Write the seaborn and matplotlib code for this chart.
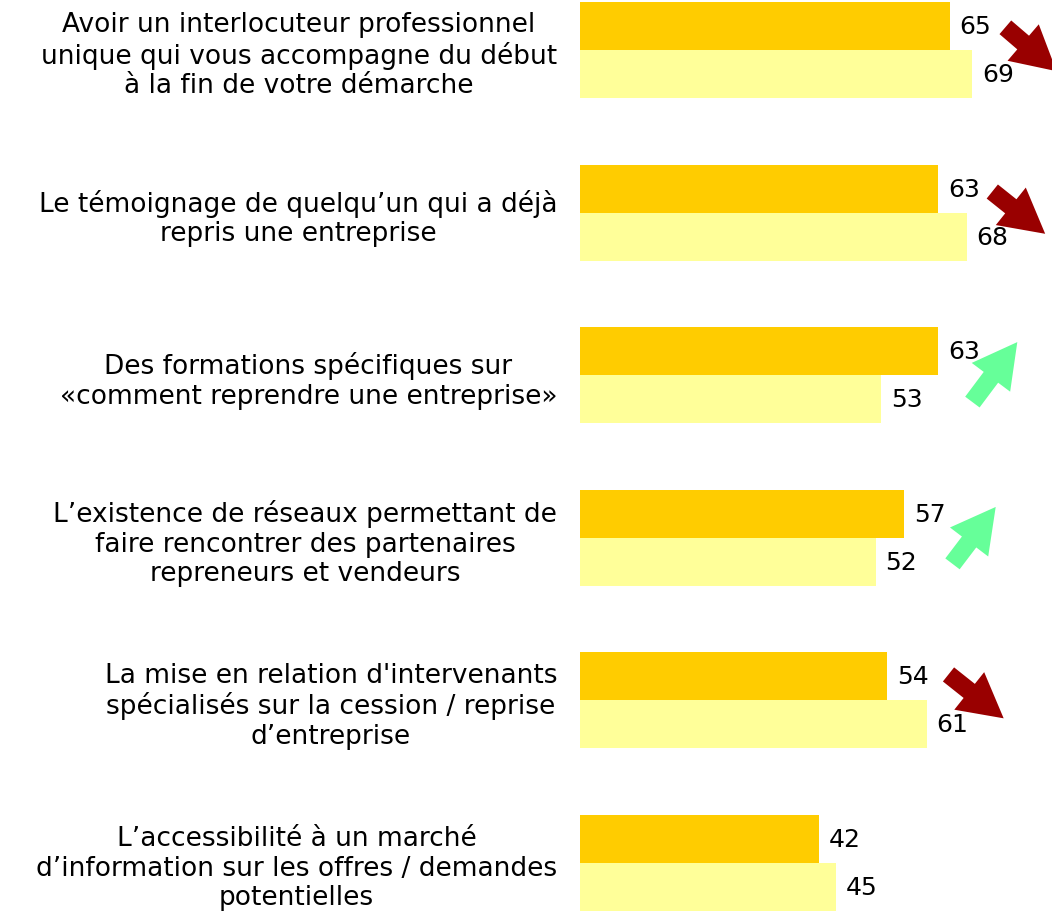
import numpy as np
import pandas as pd
import matplotlib
matplotlib.use('Agg')
import matplotlib.pyplot as plt
from matplotlib.patches import FancyArrow
from matplotlib.transforms import IdentityTransform
import seaborn as sns

CATEGORIES = [
    "Avoir un interlocuteur professionnel\nunique qui vous accompagne du début\nà la fin de votre démarche",
    "Le témoignage de quelqu’un qui a déjà\nrepris une entreprise",
    "Des formations spécifiques sur\n«comment reprendre une entreprise»",
    "L’existence de réseaux permettant de\nfaire rencontrer des partenaires\nrepreneurs et vendeurs",
    "La mise en relation d'intervenants\nspécialisés sur la cession / reprise\nd’entreprise",
    "L’accessibilité à un marché\nd’information sur les offres / demandes\npotentielles",
]
SERIES = ["Vague actuelle", "Vague précédente"]
VALUES_CURRENT = [65, 63, 63, 57, 54, 42]
VALUES_PREVIOUS = [69, 68, 53, 52, 61, 45]
TRENDS = ["down", "down", "up", "up", "down", None]

COLORS = ["#FFCC00", "#FFFF99"]
ARROW_COLORS = {"down": "#990000", "up": "#66FF99"}
# arrow tail / tip positions (data units: value, group index)
ARROW_POS = [
    ((74.8, -0.14), (83.8, 0.13)),
    ((72.5, 0.87), (81.8, 1.13)),
    ((69.0, 2.165), (76.9, 1.796)),
    ((65.5, 3.16), (73.1, 2.81)),
    ((64.8, 3.84), (74.5, 4.11)),
    None,
]

df = pd.DataFrame({
    "critere": CATEGORIES * 2,
    "serie": [SERIES[0]] * len(CATEGORIES) + [SERIES[1]] * len(CATEGORIES),
    "valeur": VALUES_CURRENT + VALUES_PREVIOUS,
})

sns.set_theme(style="white")
plt.rcParams['font.family'] = ['DejaVu Sans']

fig = plt.figure(figsize=(10.52, 9.12), dpi=100)
ax = fig.add_axes([580 / 1052, 0, 1 - 580 / 1052, 1])

sns.barplot(data=df, x="valeur", y="critere", hue="serie", orient="h",
            palette=COLORS, width=0.59, saturation=1, legend=False, ax=ax,
            linewidth=0)

for cont in ax.containers:
    ax.bar_label(cont, fmt="%d", padding=7, fontsize=18, color="black")

ax.set_xlim(0, 83)
ax.set_ylim(5.295, -0.314)
ax.set_xlabel("")
ax.set_ylabel("")
ax.set_xticks([])
ax.tick_params(axis="y", length=0, pad=16.5, labelsize=19, labelcolor="black")
for lab in ax.get_yticklabels():
    lab.set_multialignment("center")
    lab.set_linespacing(1.17)
for s in ax.spines.values():
    s.set_visible(False)

# trend arrows drawn in pixel space so the shape isn't stretched by the axes aspect
for trend, pos in zip(TRENDS, ARROW_POS):
    if trend is None:
        continue
    tail, tip = pos
    (x0, y0), (x1, y1) = ax.transData.transform([tail, tip])
    arr = FancyArrow(x0, y0, x1 - x0, y1 - y0, width=18, head_width=48,
                     head_length=44, length_includes_head=True,
                     color=ARROW_COLORS[trend], lw=0,
                     transform=IdentityTransform())
    fig.add_artist(arr)

fig.savefig("out.png", dpi=100)
